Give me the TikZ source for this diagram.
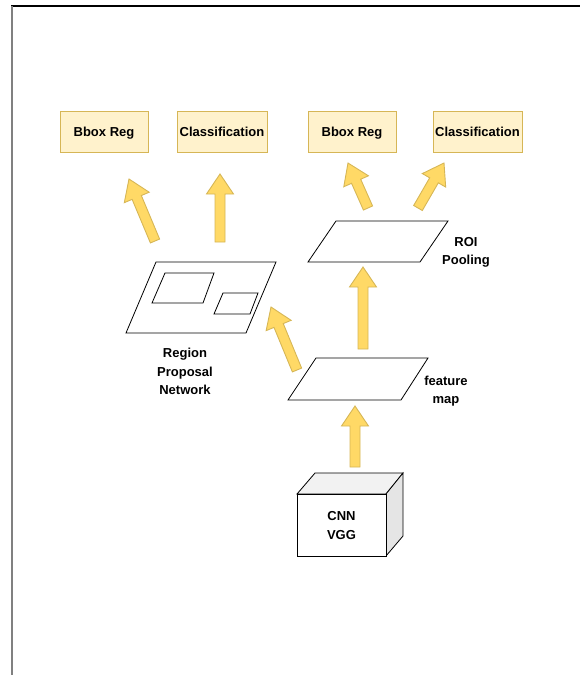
\documentclass[tikz,border=0pt]{standalone}
\usepackage{fontspec}
\setmainfont{Liberation Sans}
\usetikzlibrary{calc}
\definecolor{boxfill}{HTML}{FFF2CC}
\definecolor{boxline}{HTML}{D6B656}
\definecolor{arrfill}{HTML}{FFD966}
\newcommand\blockarr[2]{%
  \coordinate (#1h) at ($(#2)!20pt!(#1)$);
  \draw[arrstyle] ($(#1)!5pt!90:(#2)$) -- ($(#1h)!5pt!90:(#2)$) -- ($(#1h)!13.5pt!90:(#2)$) -- (#2)
     -- ($(#1h)!13.5pt!-90:(#2)$) -- ($(#1h)!5pt!-90:(#2)$) -- ($(#1)!5pt!-90:(#2)$) -- cycle;}
\begin{document}
\begin{tikzpicture}[x=1pt,y=-1pt,
  ybox/.style={draw=boxline, fill=boxfill, line width=0.8pt, font=\bfseries\fontsize{13}{15}\selectfont, inner sep=0pt, text depth=0pt},
  arrstyle/.style={draw=boxline, fill=arrfill, line width=0.9pt, line join=miter},
  shp/.style={draw=black, line width=0.8pt, fill=white},
  lbl/.style={font=\bfseries\fontsize{13}{18.5}\selectfont, align=center, inner sep=0pt}]
\useasboundingbox (0,0) rectangle (580,675);
% frame
\draw[black, line width=1.4pt] (11,6) -- (580,6);
\draw[gray, line width=2pt] (12,6) -- (12,675);
% output boxes
\node[ybox, minimum width=88pt, minimum height=41pt] (bb1) at (104,131.5) {Bbox Reg};
\node[ybox, minimum width=90pt, minimum height=41pt] (cl1) at (222,131.5) {Classification};
\node[ybox, minimum width=88pt, minimum height=41pt] (bb2) at (352,131.5) {Bbox Reg};
\node[ybox, minimum width=89pt, minimum height=41pt] (cl2) at (477.5,131.5) {Classification};
% RPN parallelogram
\draw[shp] (156,262) coordinate (rpn) -- (276,262) -- (246,333) -- (126,333) -- cycle;
\draw[shp] (165,273) -- (214,273) -- (203,303) -- (152,303) -- cycle;
\draw[shp] (223,293) -- (258,293) -- (250,314) -- (214,314) -- cycle;
\node[lbl] (rpnlbl) at (185,371.5) {Region\\Proposal\\Network};
% ROI pooling
\draw[shp] (336,221) coordinate (roi) -- (448,221) -- (420,262) -- (308,262) -- cycle;
\node[lbl] (roilbl) at (466,252.5) {ROI\\Pooling};
% feature map
\draw[shp] (316,358) coordinate (fm) -- (428,358) -- (401,400) -- (288,400) -- cycle;
\node[lbl] (fmlbl) at (446,391) {feature\\map};
% CNN cube
\draw[line width=0.8pt, fill=white!95!black] (297,494) -- (315,473) -- (403,473) -- (386,494) -- cycle;
\draw[line width=0.8pt, fill=white!90!black] (386,494) -- (403,473) -- (403,536) -- (386,556) -- cycle;
\draw[line width=0.8pt, fill=white] (297,494) rectangle (386,556);
\node[lbl] (cnn) at (341.5,525.5) {CNN\\VGG};
% block arrows
\coordinate (aT) at (155,241); \coordinate (aH) at (129,179);
\coordinate (bT) at (220,242); \coordinate (bH) at (220,174);
\coordinate (cT) at (368,208); \coordinate (cH) at (348,163);
\coordinate (dT) at (418,208); \coordinate (dH) at (444,163);
\coordinate (eT) at (363,349); \coordinate (eH) at (363,267);
\coordinate (fT) at (297,370); \coordinate (fH) at (271,307);
\coordinate (gT) at (355,467); \coordinate (gH) at (355,406);
\blockarr{aT}{aH}
\blockarr{bT}{bH}
\blockarr{cT}{cH}
\blockarr{dT}{dH}
\blockarr{eT}{eH}
\blockarr{fT}{fH}
\blockarr{gT}{gH}
\end{tikzpicture}
\end{document}
